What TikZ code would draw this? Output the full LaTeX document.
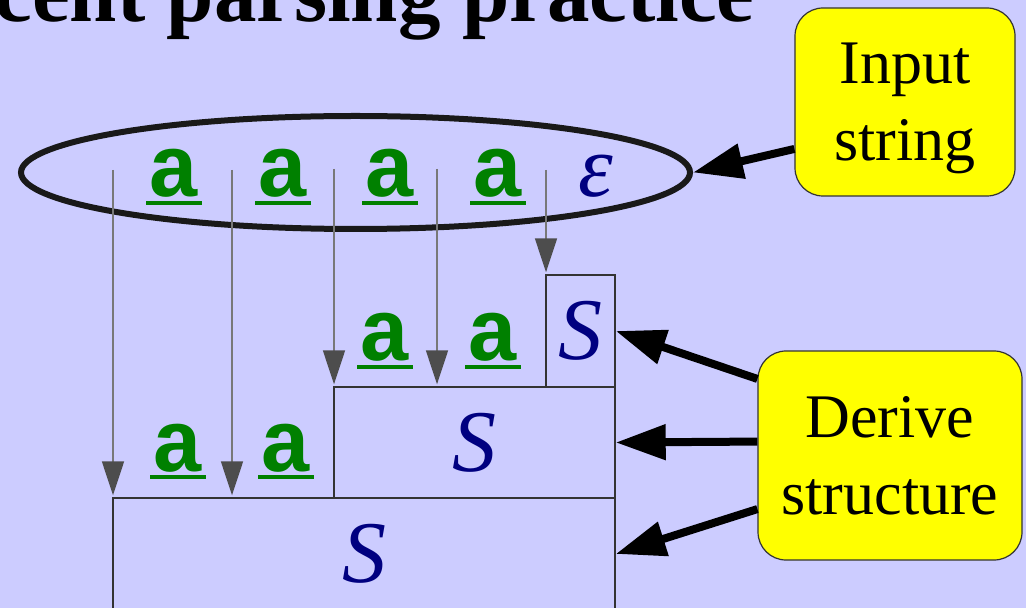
\documentclass[tikz,border=0pt]{standalone}
\usepackage{fontspec}
\setmainfont{Liberation Serif}
\newfontfamily\codefont{Liberation Mono}
\usetikzlibrary{arrows.meta,shapes.geometric}

\definecolor{bgblue}{RGB}{204,204,255}
\definecolor{termgreen}{RGB}{0,128,0}
\definecolor{ntblue}{RGB}{0,0,128}
\definecolor{notegold}{RGB}{255,255,0}
\definecolor{leadgray}{RGB}{120,120,120}
\definecolor{headgray}{RGB}{77,77,77}
\definecolor{boxline}{RGB}{51,51,51}

% underlined terminal symbol "a"
\newcommand\termA{{\codefont\bfseries\makebox[28pt]{a}\llap{\rule[-4pt]{28pt}{2pt}}}}

\begin{document}
\begin{tikzpicture}[x=0.5pt,y=-0.5pt,
  term/.style={text=termgreen,font=\fontsize{44}{44}\selectfont,inner sep=0pt,anchor=base},
  nonterm/.style={text=ntblue,font=\fontsize{44}{44}\selectfont\itshape,inner sep=0pt},
  derivbox/.style={draw=boxline,line width=0.7pt},
  note/.style={draw=boxline,fill=notegold,rounded corners=14pt,line width=0.6pt,
    align=center,font=\fontsize{31}{38.5}\selectfont,inner sep=0pt},
  lead/.style={draw=leadgray,line width=0.8pt,shorten >=1pt,
    -{Triangle[length=17pt,width=11pt,color=headgray]}},
  pointer/.style={draw=black,line width=4pt,-{Triangle[length=25pt,width=17pt]}}]

\useasboundingbox (0,0) rectangle (1026,608);
\fill[bgblue] (0,0) rectangle (1026,608);
\clip (0,0) rectangle (1026,608);

% heading
\node[anchor=base east,inner sep=0pt,font=\fontsize{42.5}{42.5}\selectfont\bfseries]
  (title) at (755,22) {cent parsing practice};

% input string
\node[ellipse,draw=black!90,line width=3pt,minimum width=334.5pt,minimum height=56.5pt,inner sep=0pt]
  (str) at (355.5,172.5) {};
\node[term] (a1) at (174,197) {\termA};
\node[term] (a2) at (283,197) {\termA};
\node[term] (a3) at (390,197) {\termA};
\node[term] (a4) at (498,197) {\termA};
\node[nonterm,anchor=base] (eps) at (596,197) {ε};

% derivation boxes
\node[derivbox,nonterm,minimum width=34.5pt,minimum height=56pt] (s1) at (580.5,331) {S};
\node[derivbox,nonterm,minimum width=140.5pt,minimum height=55.5pt] (s2) at (474.5,442.5) {S};
\node[derivbox,nonterm,minimum width=251pt,minimum height=56pt] (s3) at (364,554) {S};

\node[term] (b1) at (385,361) {\termA};
\node[term] (b2) at (493,361) {\termA};
\node[term] (c1) at (178,471) {\termA};
\node[term] (c2) at (286,471) {\termA};

% leads from the input positions
\coordinate (l1) at (113,170);
\coordinate (l2) at (232,170);
\coordinate (l3) at (334,169);
\coordinate (l4) at (437,169);
\coordinate (l5) at (546,170);
\draw[lead] (l1) -- (l1 |- s3.north);
\draw[lead] (l2) -- (l2 |- s3.north);
\draw[lead] (l3) -- (l3 |- s2.north);
\draw[lead] (l4) -- (l4 |- s2.north);
\draw[lead] (l5) -- (l5 |- s1.north);

% callouts
\node[note,minimum width=110pt,minimum height=94pt] (inp) at (905,102)
  {\rule{0pt}{26.25pt}Input\\string};
\node[note,minimum width=132pt,minimum height=104.5pt] (der) at (890,455.5)
  {Derive\\structure};

\draw[pointer] (inp.203.6) -- (str.east);
\draw[pointer] (der.150.2) -- (s1.east);
\draw[pointer] (der.174.2) -- (s2.east);
\draw[pointer] (der.202.4) -- (s3.east);
\end{tikzpicture}
\end{document}
